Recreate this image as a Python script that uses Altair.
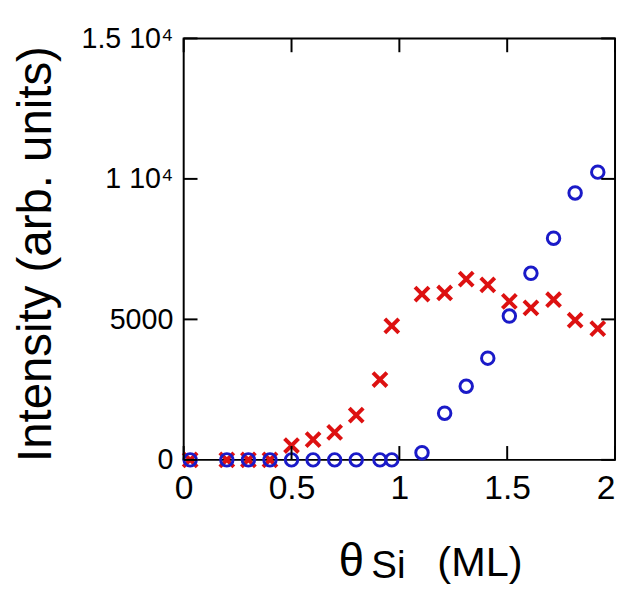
import altair as alt
import pandas as pd

# ---- data ----
coverage = [0.03, 0.20, 0.30, 0.40, 0.50, 0.60, 0.70, 0.80, 0.91, 0.965,
            1.105, 1.21, 1.31, 1.41, 1.51, 1.61, 1.715, 1.815, 1.92]
red_intensity = [0, 0, 0, 0, 510, 720, 980, 1590, 2860, 4770,
                 5900, 5940, 6430, 6230, 5640, 5410, 5700, 4970, 4670]
blue_intensity = [0, 0, 0, 0, 0, 0, 0, 0, 0, 0,
                  256, 1660, 2620, 3620, 5120, 6640, 7890, 9500, 10240]

x_ticks = [0, 0.5, 1, 1.5, 2]
y_ticks = [0, 5000, 10000, 15000]

FONT = "Liberation Sans"
RED = "#dd1111"
BLUE = "#1a1ac8"
W, H = 437, 427
TICK = 14

df = pd.DataFrame({"coverage": coverage * 2,
                   "intensity": red_intensity + blue_intensity,
                   "series": ["red"] * len(coverage) + ["blue"] * len(coverage)})
xt = pd.DataFrame({"coverage": x_ticks})
yt = pd.DataFrame({"intensity": y_ticks})

xscale = alt.Scale(domain=[0, 2], nice=False, zero=False)
yscale = alt.Scale(domain=[0, 15000], nice=False)

xaxis = alt.Axis(values=x_ticks, title=None, ticks=False, domain=False, grid=False,
                 labelFont=FONT, labelFontSize=34, labelColor="black",
                 labelPadding=12, labelFlush=False, labelOverlap=False,
                 labelAlign={"condition": {"test": "datum.value >= 2", "value": "right"},
                             "value": "center"},
                 labelExpr="format(datum.value, '~g')")
yaxis = alt.Axis(values=y_ticks, title="Intensity (arb. units)", ticks=False, domain=False,
                 grid=False, labelFont=FONT, labelFontSize=29, labelColor="black",
                 labelPadding=11, labelOverlap=False, labelFlush=False,
                 labelExpr="datum.value == 15000 ? '1.5 10⁴' : datum.value == 10000 ? '1 10⁴' : format(datum.value, 'd')",
                 titleFont=FONT, titleFontSize=48, titleFontWeight="normal", titleColor="black",
                 titleAngle=-90, titleAlign="center", titleBaseline="middle",
                 titleX=-149, titleY=218)

red = alt.Chart(df).transform_filter(alt.datum.series == "red").mark_point(
    shape="M-1,-1L1,1M1,-1L-1,1", filled=False, stroke=RED, strokeWidth=4,
    size=200, opacity=1
).encode(
    x=alt.X("coverage:Q", scale=xscale, axis=xaxis),
    y=alt.Y("intensity:Q", scale=yscale, axis=yaxis),
)

blue = alt.Chart(df).transform_filter(alt.datum.series == "blue").mark_point(
    shape="circle", filled=False, stroke=BLUE, strokeWidth=3, size=160, opacity=1
).encode(
    x=alt.X("coverage:Q", scale=xscale),
    y=alt.Y("intensity:Q", scale=yscale),
)

tick_style = dict(color="black", strokeWidth=2)
xt_bottom = alt.Chart(xt).mark_rule(**tick_style).encode(
    x=alt.X("coverage:Q", scale=xscale), y=alt.value(H), y2=alt.value(H - TICK))
xt_top = alt.Chart(xt).mark_rule(**tick_style).encode(
    x=alt.X("coverage:Q", scale=xscale), y=alt.value(0), y2=alt.value(TICK))
yt_left = alt.Chart(yt).mark_rule(**tick_style).encode(
    y=alt.Y("intensity:Q", scale=yscale), x=alt.value(0), x2=alt.value(TICK))
yt_right = alt.Chart(yt).mark_rule(**tick_style).encode(
    y=alt.Y("intensity:Q", scale=yscale), x=alt.value(W), x2=alt.value(W - TICK))

one = alt.Data(values=[{}])
t_theta = alt.Chart(one).mark_text(text="θ", font=FONT, fontSize=46, align="left",
                                   baseline="alphabetic", color="black").encode(
    x=alt.value(157), y=alt.value(545))
t_si = alt.Chart(one).mark_text(text="Si", font=FONT, fontSize=39, align="left",
                                baseline="alphabetic", color="black").encode(
    x=alt.value(190), y=alt.value(547))
t_ml = alt.Chart(one).mark_text(text="(ML)", font=FONT, fontSize=42, align="left",
                                baseline="alphabetic", color="black").encode(
    x=alt.value(257), y=alt.value(545))

chart = alt.layer(red, blue, xt_bottom, xt_top, yt_left, yt_right, t_theta, t_si, t_ml).properties(
    width=W, height=H,
    autosize=alt.AutoSizeParams(type="none"),
    padding={"left": 178, "top": 27, "right": 2, "bottom": 125},
    background="white",
).configure_view(stroke="black", strokeWidth=2)

chart.save("out.html", embed_options={"renderer": "svg", "actions": False})
